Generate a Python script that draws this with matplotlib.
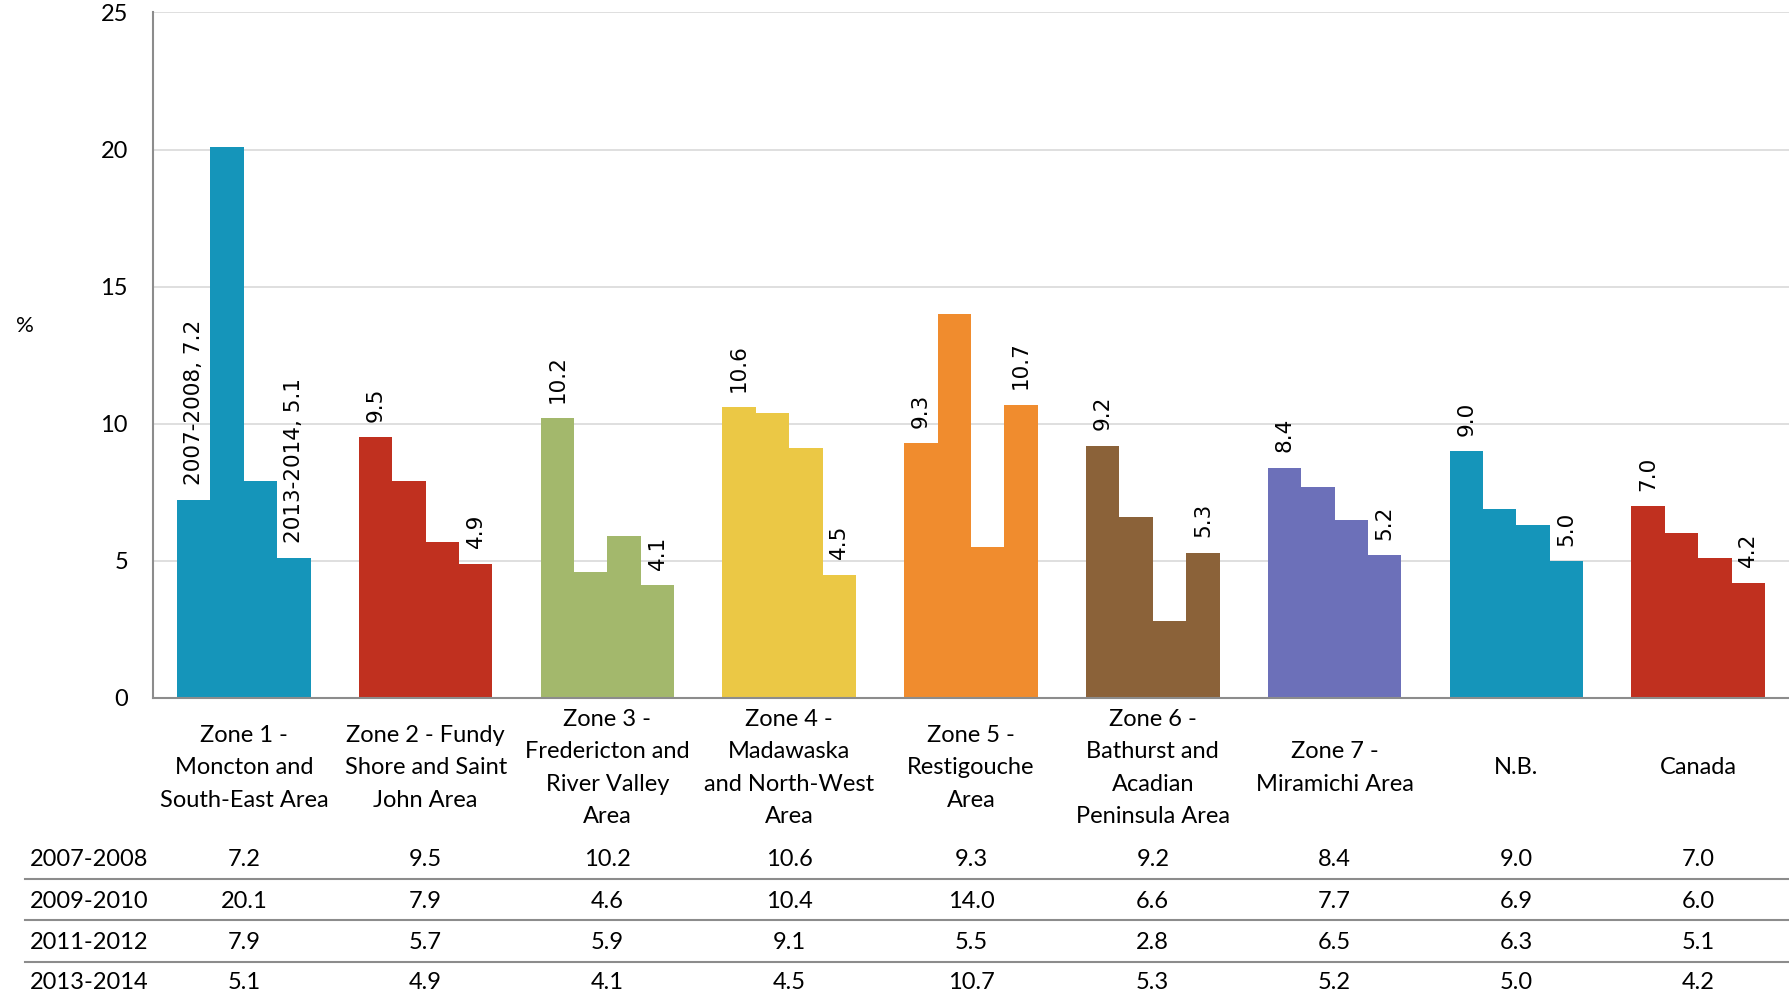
import numpy as np
import matplotlib.pyplot as plt
from matplotlib.transforms import blended_transform_factory

# Data
categories = [
    "Zone 1 -\nMoncton and\nSouth-East Area",
    "Zone 2 - Fundy\nShore and Saint\nJohn Area",
    "Zone 3 -\nFredericton and\nRiver Valley\nArea",
    "Zone 4 -\nMadawaska\nand North-West\nArea",
    "Zone 5 -\nRestigouche\nArea",
    "Zone 6 -\nBathurst and\nAcadian\nPeninsula Area",
    "Zone 7 -\nMiramichi Area",
    "N.B.",
    "Canada",
]
periods = ["2007-2008", "2009-2010", "2011-2012", "2013-2014"]
v_2007_2008 = [7.2, 9.5, 10.2, 10.6, 9.3, 9.2, 8.4, 9.0, 7.0]
v_2009_2010 = [20.1, 7.9, 4.6, 10.4, 14.0, 6.6, 7.7, 6.9, 6.0]
v_2011_2012 = [7.9, 5.7, 5.9, 9.1, 5.5, 2.8, 6.5, 6.3, 5.1]
v_2013_2014 = [5.1, 4.9, 4.1, 4.5, 10.7, 5.3, 5.2, 5.0, 4.2]
series = [v_2007_2008, v_2009_2010, v_2011_2012, v_2013_2014]

colors = ["#1595BA", "#C0301F", "#A3B86C", "#EBC845", "#F08C2E",
          "#8B6239", "#6C70B9", "#1595BA", "#C0301F"]

main_font = ["Lato", "DejaVu Sans"]

fig = plt.figure(figsize=(17.89, 9.97), dpi=100)
ax = fig.add_axes([0.0855, 0.300, 0.9145, 0.6875])

n = len(categories)
x = np.arange(n)
group_w = 0.735
bar_w = group_w / 4

for j, vals in enumerate(series):
    offs = -group_w / 2 + bar_w * (j + 0.5)
    ax.bar(x + offs, vals, width=bar_w, color=colors, zorder=2)
    # value labels only on first and last period
    if j in (0, 3):
        for i, v in enumerate(vals):
            txt = f"{v:.1f}"
            if i == 0:
                txt = f"{periods[j]}, {v:.1f}"
            ax.annotate(txt, (x[i] + offs, v), xytext=(0, 11),
                        textcoords="offset points", rotation=90,
                        ha="center", va="bottom", fontsize=15.5,
                        family="DejaVu Sans", color="black")

ax.set_xlim(-0.5, n - 0.5)
ax.set_ylim(0, 25)
ax.set_yticks([0, 5, 10, 15, 20, 25])
ax.tick_params(axis="y", length=0, pad=18, labelsize=17)
for lab in ax.get_yticklabels():
    lab.set_family(main_font)
ax.set_xticks([])
ax.grid(axis="y", color="#D9D9D9", linewidth=1.2, zorder=0)
ax.set_axisbelow(True)
for s in ["top", "right"]:
    ax.spines[s].set_visible(False)
for s in ["left", "bottom"]:
    ax.spines[s].set_color("#8C8C8C")
    ax.spines[s].set_linewidth(1.5)
ax.spines["left"].set_bounds(0, 25)

fig.text(0.009, 0.673, "%", fontsize=16, family=main_font, va="center")

# Category labels and data table below the axis
tr = blended_transform_factory(ax.transData, fig.transFigure)
for i, c in enumerate(categories):
    ax.text(x[i], 0.2297, c, transform=tr, ha="center", va="center",
            fontsize=17, family=main_font, linespacing=1.65, clip_on=False)

row_y = [0.1377, 0.0956, 0.0545, 0.0143]
for r, vals in enumerate(series):
    fig.text(0.0167, row_y[r], periods[r], ha="left", va="center",
             fontsize=17, family=main_font)
    for i, v in enumerate(vals):
        ax.text(x[i], row_y[r], f"{v:.1f}", transform=tr, ha="center",
                va="center", fontsize=17, family=main_font, clip_on=False)

for ly in [0.1184, 0.0772, 0.0351]:
    fig.add_artist(plt.Line2D([0.014, 1.0], [ly, ly], color="#8C8C8C",
                              linewidth=1.5, transform=fig.transFigure))

fig.savefig("out.png", dpi=100)
